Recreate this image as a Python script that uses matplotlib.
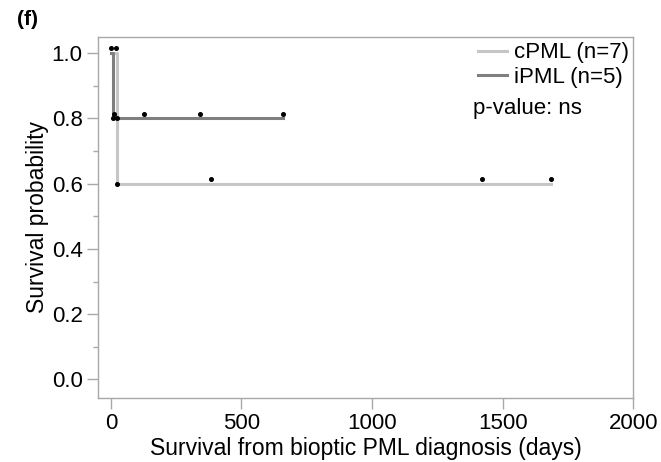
import matplotlib
matplotlib.use('Agg')
import matplotlib.pyplot as plt
from matplotlib.ticker import MultipleLocator

plt.rcParams['font.family'] = ['Liberation Sans', 'DejaVu Sans']

# Kaplan-Meier steps (days, survival probability)
cpml_days = [0, 22, 1686]
cpml_surv = [1.0, 0.6, 0.6]
ipml_days = [0, 9, 660]
ipml_surv = [1.0, 0.8, 0.8]

# censor / event marks
cpml_mark_days = [0, 24, 383, 1420, 1686]
cpml_mark_surv = [1.014, 0.6, 0.614, 0.614, 0.614]
ipml_mark_days = [18, 9, 13, 24, 126, 342, 660]
ipml_mark_surv = [1.014, 0.8, 0.814, 0.8, 0.814, 0.814, 0.814]

labels = ['cPML (n=7)', 'iPML (n=5)']
p_text = 'p-value: ns'

light = '#c6c6c6'
dark = '#7f7f7f'
axis_grey = '#a8a8a8'

fig = plt.figure(figsize=(6.61, 4.62), dpi=100)
ax = fig.add_axes([0.148, 0.139, 0.810, 0.781])

ax.step(cpml_days, cpml_surv, where='post', color=light, lw=2.2, label=labels[0])
ax.step(ipml_days, ipml_surv, where='post', color=dark, lw=2.2, label=labels[1])
ax.plot(cpml_mark_days, cpml_mark_surv, 'o', color='black', ms=2.6, ls='none')
ax.plot(ipml_mark_days, ipml_mark_surv, 'o', color='black', ms=2.6, ls='none')

ax.set_xlim(-50, 2000)
ax.set_ylim(-0.056, 1.049)
ax.set_xticks([0, 500, 1000, 1500, 2000])
ax.set_yticks([0.0, 0.2, 0.4, 0.6, 0.8, 1.0])
ax.set_yticklabels(['0.0', '0.2', '0.4', '0.6', '0.8', '1.0'])
ax.yaxis.set_minor_locator(MultipleLocator(0.1))

for s in ax.spines.values():
    s.set_color(axis_grey)
    s.set_linewidth(1.0)
ax.tick_params(which='major', length=8, width=1, color=axis_grey, labelsize=16, pad=3)
ax.tick_params(which='minor', length=3.5, width=1, color=axis_grey)

ax.set_xlabel('Survival from bioptic PML diagnosis (days)', fontsize=16.5, labelpad=2)
ax.set_ylabel('Survival probability', fontsize=16.5, labelpad=2)

leg = ax.legend(loc='upper right', bbox_to_anchor=(0.992, 0.985), frameon=False,
                fontsize=16, handlelength=1.3, handletextpad=0.3, borderaxespad=0,
                borderpad=0, labelspacing=0.15)
ax.text(0.701, 0.803, p_text, transform=ax.transAxes, fontsize=16, va='center', ha='left')

fig.text(0.026, 0.957, '(f)', fontsize=15, fontweight='bold', va='center', ha='left')

fig.savefig('out.png', dpi=100)
